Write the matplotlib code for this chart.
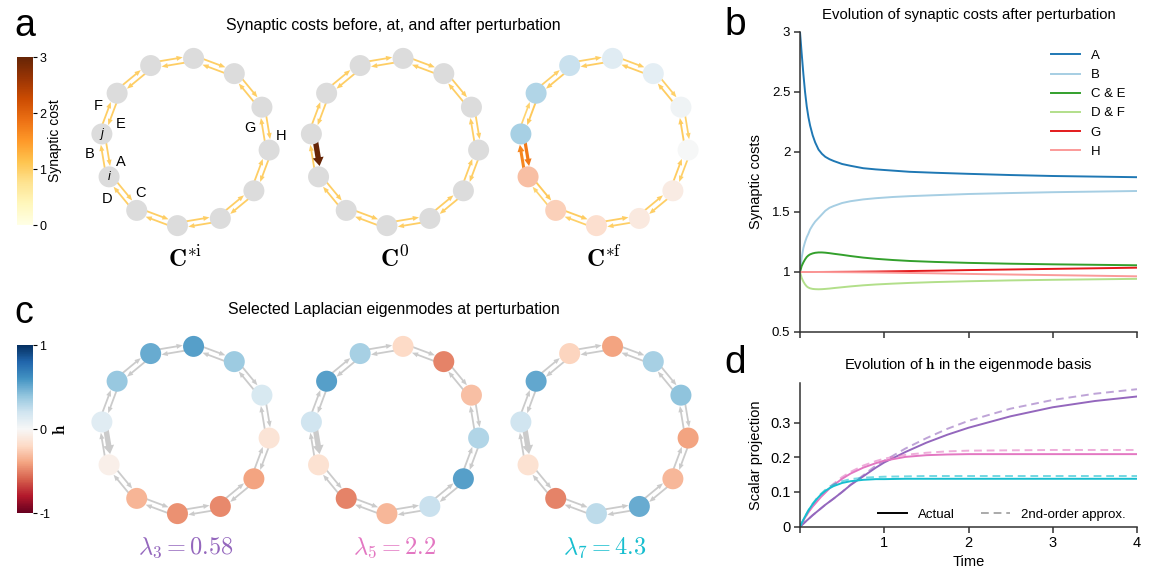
import numpy as np
import matplotlib
matplotlib.use("Agg")
import matplotlib.pyplot as plt
from matplotlib.patches import Circle, Polygon
from matplotlib.lines import Line2D
from matplotlib import cm, colors

plt.rcParams["font.family"] = ["Liberation Sans", "DejaVu Sans"]
plt.rcParams["mathtext.fontset"] = "cm"
plt.rcParams["font.size"] = 9
plt.rcParams["axes.unicode_minus"] = False

W, H = 1153, 573

# ---------------- panel b: synaptic costs over time
t_b = [0, 0.02, 0.04, 0.06, 0.08, 0.1, 0.12, 0.15, 0.18, 0.22, 0.26, 0.3, 0.35,
       0.4, 0.5, 0.6, 0.75, 0.9, 1.1, 1.3, 1.6, 2.0, 2.5, 3.0, 3.5, 4.0]
cost_A = [3.0, 2.82, 2.65, 2.50, 2.38, 2.29, 2.22, 2.14, 2.08, 2.02, 1.985, 1.96, 1.94,
          1.925, 1.90, 1.885, 1.865, 1.855, 1.845, 1.835, 1.827, 1.818, 1.808, 1.80, 1.795, 1.79]
cost_B = [1.0, 1.12, 1.20, 1.25, 1.29, 1.32, 1.355, 1.39, 1.42, 1.45, 1.48, 1.51, 1.535,
          1.55, 1.575, 1.59, 1.605, 1.615, 1.625, 1.632, 1.64, 1.65, 1.658, 1.665, 1.67, 1.675]
cost_CE = [1.0, 1.05, 1.08, 1.105, 1.125, 1.138, 1.147, 1.155, 1.16, 1.163, 1.163, 1.161, 1.157,
           1.152, 1.143, 1.133, 1.12, 1.11, 1.10, 1.092, 1.084, 1.076, 1.069, 1.064, 1.06, 1.056]
cost_DF = [1.0, 0.95, 0.92, 0.897, 0.88, 0.87, 0.864, 0.859, 0.857, 0.856, 0.857, 0.859, 0.862,
           0.866, 0.873, 0.88, 0.889, 0.896, 0.903, 0.909, 0.916, 0.923, 0.93, 0.935, 0.939, 0.943]
cost_G = [1.0, 1.0, 1.0, 1.0, 1.0, 1.0, 1.0, 1.0, 1.0001, 1.0002, 1.0003, 1.0005, 1.0007,
          1.001, 1.0015, 1.002, 1.003, 1.004, 1.006, 1.008, 1.011, 1.016, 1.021, 1.026, 1.031, 1.036]
cost_H = [1.0, 1.0, 1.0, 1.0, 1.0, 1.0, 1.0, 1.0, 0.9999, 0.9998, 0.9997, 0.9995, 0.9993,
          0.999, 0.9985, 0.998, 0.997, 0.996, 0.994, 0.992, 0.989, 0.984, 0.979, 0.974, 0.969, 0.964]

# ---------------- panel d: projections on eigenmodes
t_d = [0, 0.05, 0.1, 0.15, 0.2, 0.25, 0.3, 0.35, 0.4, 0.5, 0.6, 0.75, 0.9, 1.0,
       1.25, 1.5, 1.75, 2.0, 2.5, 3.0, 3.5, 4.0]
proj3 = [0, 0.011, 0.022, 0.033, 0.043, 0.053, 0.063, 0.072, 0.081, 0.10, 0.12, 0.145, 0.170, 0.185,
         0.215, 0.242, 0.265, 0.285, 0.318, 0.344, 0.362, 0.375]
proj3_approx = [0, 0.011, 0.022, 0.033, 0.043, 0.053, 0.063, 0.072, 0.081, 0.10, 0.121, 0.148, 0.176, 0.19,
                0.225, 0.255, 0.282, 0.305, 0.34, 0.365, 0.383, 0.396]
proj5 = [0, 0.022, 0.042, 0.058, 0.072, 0.086, 0.098, 0.11, 0.12, 0.138, 0.153, 0.17, 0.183, 0.19,
         0.201, 0.206, 0.208, 0.209, 0.209, 0.209, 0.209, 0.209]
proj5_approx = [0, 0.022, 0.042, 0.059, 0.074, 0.088, 0.10, 0.113, 0.124, 0.143, 0.158, 0.176, 0.189, 0.196,
                0.207, 0.213, 0.217, 0.219, 0.22, 0.221, 0.221, 0.221]
proj7 = [0, 0.025, 0.047, 0.065, 0.08, 0.093, 0.103, 0.111, 0.117, 0.126, 0.131, 0.135, 0.137, 0.137,
         0.138, 0.138, 0.138, 0.138, 0.138, 0.138, 0.138, 0.138]
proj7_approx = [0, 0.025, 0.047, 0.066, 0.082, 0.095, 0.106, 0.115, 0.122, 0.131, 0.137, 0.141, 0.143, 0.144,
                0.145, 0.146, 0.146, 0.146, 0.146, 0.146, 0.146, 0.146]

# ---------------- ring networks (12 nodes, node k counter-clockwise from the top)
h_final = [0.12, 0.22, 0.30, 0.33, -0.30, -0.24, -0.17, -0.10, -0.08, 0.0, 0.04, 0.10]
mode3 = [0.55, 0.50, 0.38, 0.12, -0.06, -0.34, -0.46, -0.48, -0.40, -0.14, 0.16, 0.36]
mode5 = [-0.20, 0.33, 0.55, 0.20, -0.15, -0.50, -0.33, 0.22, 0.55, 0.30, -0.30, -0.50]
mode7 = [-0.40, -0.22, 0.52, 0.20, -0.15, -0.50, 0.26, 0.50, -0.33, -0.40, 0.40, 0.33]
eig_labels = [r"$\lambda_3 = 0.58$", r"$\lambda_5 = 2.2$", r"$\lambda_7 = 4.3$"]
eig_colors = ["#9467bd", "#e377c2", "#17becf"]

# edge costs per neighbour pair k -- (k, k+1): inner edge k->k+1, outer edge k+1->k
inner_i = [1.0] * 12
outer_i = [1.0] * 12
inner_0 = [1.0, 1.0, 1.0, 3.0, 1.0, 1.0, 1.0, 1.0, 1.0, 1.0, 1.0, 1.0]
outer_0 = [1.0] * 12
inner_f = [1.01, 1.02, 1.056, 1.79, 1.056, 1.02, 1.01, 1.0, 1.02, 1.036, 1.02, 1.01]
outer_f = [0.99, 0.98, 0.943, 1.675, 0.943, 0.98, 0.99, 1.0, 0.98, 0.964, 0.98, 0.99]
ring_names = [r"$\mathbf{C}^{*\mathrm{i}}$", r"$\mathbf{C}^{0}$", r"$\mathbf{C}^{*\mathrm{f}}$"]

R_RING = 84.0
R_NODE = 10.5
GAP = 2.8
GRAY_NODE = "#dcdcdc"
GRAY_EDGE = "#cbcbcb"
norm_cost = colors.Normalize(0, 3)
norm_h = colors.Normalize(-1, 1)
cmap_cost = plt.get_cmap("YlOrBr")
cmap_h = plt.get_cmap("RdBu")


def ring_xy(cx, cy):
    ang = np.deg2rad(84.5 + 30 * np.arange(12))
    return cx + R_RING * np.cos(ang), cy - R_RING * np.sin(ang)


def draw_edge(ax, a, b, off, cost, col):
    u = (b - a) / np.linalg.norm(b - a)
    perp = np.array([-u[1], u[0]])
    tip = b + off - u * R_NODE
    hl = 5.0 + 1.2 * cost
    hw = 2.0 + 3.0 * cost
    base = tip - u * hl
    z = 2 + 0.1 * cost
    ax.plot([a[0] + off[0], base[0] + u[0]], [a[1] + off[1], base[1] + u[1]],
            color=col, lw=1.3 * cost, solid_capstyle="butt", zorder=z)
    ax.add_patch(Polygon([tip, base + perp * hw / 2, base - perp * hw / 2],
                         closed=True, fc=col, ec="none", zorder=z))


def draw_ring(ax, cx, cy, node_cols, inner, outer, edge_col=None):
    xs, ys = ring_xy(cx, cy)
    c = np.array([cx, cy])
    for k in range(12):
        k2 = (k + 1) % 12
        p = np.array([xs[k], ys[k]])
        q = np.array([xs[k2], ys[k2]])
        mid = (p + q) / 2
        inw = (c - mid) / np.linalg.norm(c - mid)
        for cost, sgn, a, b in [(inner[k], 1, p, q), (outer[k], -1, q, p)]:
            col = edge_col if edge_col else cmap_cost(norm_cost(cost))
            draw_edge(ax, a, b, sgn * GAP * inw, cost, col)
    for k in range(12):
        ax.add_patch(Circle((xs[k], ys[k]), R_NODE, fc=node_cols[k], ec="none", zorder=4))


fig = plt.figure(figsize=(W / 100, H / 100), dpi=100)
ax_net = fig.add_axes([0, 0, 720 / W, 1])
ax_net.set_xlim(0, 720)
ax_net.set_ylim(H, 0)
ax_net.axis("off")

ring_cx = [185.5, 395.0, 604.5]
cy_a, cy_c = 142.0, 430.0

# panel a
draw_ring(ax_net, ring_cx[0], cy_a, [GRAY_NODE] * 12, inner_i, outer_i)
draw_ring(ax_net, ring_cx[1], cy_a, [GRAY_NODE] * 12, inner_0, outer_0)
draw_ring(ax_net, ring_cx[2], cy_a, [cmap_h(norm_h(v)) for v in h_final], inner_f, outer_f)
for cx, name in zip(ring_cx, ring_names):
    ax_net.text(cx, 267, name, fontsize=18, ha="center", va="baseline")

# edge / node labels on the first ring
lab_off = {"F": (-87, -36), "E": (-65, -18), "B": (-95.5, 12), "A": (-64.5, 20),
           "D": (-78, 57), "C": (-44.5, 51), "G": (64.5, -14), "H": (95.5, -6)}
for s, (dx, dy) in lab_off.items():
    ax_net.text(ring_cx[0] + dx, cy_a + dy, s, fontsize=10.5, ha="center", va="center", zorder=6)
xs0, ys0 = ring_xy(ring_cx[0], cy_a)
ax_net.text(xs0[3], ys0[3], "j", style="italic", fontsize=9, ha="center", va="center", zorder=6)
ax_net.text(xs0[4], ys0[4], "i", style="italic", fontsize=9, ha="center", va="center", zorder=6)

# panel c
for cx, mode, lab, col in zip(ring_cx, [mode3, mode5, mode7], eig_labels, eig_colors):
    draw_ring(ax_net, cx, cy_c, [cmap_h(norm_h(v)) for v in mode], inner_0, outer_0, GRAY_EDGE)
    ax_net.text(cx, 554, lab, fontsize=17.5, color=col, ha="center", va="baseline")

ax_net.text(393.5, 30, "Synaptic costs before, at, and after perturbation", fontsize=11.4,
            ha="center", va="baseline")
ax_net.text(393.5, 314, "Selected Laplacian eigenmodes at perturbation", fontsize=11.4,
            ha="center", va="baseline")
ax_net.text(14, 36, "a", fontsize=27, va="baseline")
ax_net.text(14, 323, "c", fontsize=27, va="baseline")

# colorbars
cax_a = fig.add_axes([17 / W, 1 - 225 / H, 16 / W, 168 / H])
cb_a = fig.colorbar(cm.ScalarMappable(norm=norm_cost, cmap=cmap_cost), cax=cax_a, ticks=[0, 1, 2, 3])
cb_a.outline.set_visible(False)
cb_a.set_label("Synaptic cost", fontsize=10, labelpad=1)
cax_a.tick_params(length=3, width=0.8, pad=1.5, labelsize=9)

cax_c = fig.add_axes([17 / W, 1 - 513 / H, 16 / W, 168 / H])
cb_c = fig.colorbar(cm.ScalarMappable(norm=norm_h, cmap=cmap_h), cax=cax_c, ticks=[-1, 0, 1])
cb_c.outline.set_visible(False)
cb_c.set_label(r"$\mathbf{h}$", fontsize=12, labelpad=1)
cax_c.tick_params(length=3, width=0.8, pad=1.5, labelsize=9)

# panel b
pal = plt.get_cmap("Paired").colors
ax_b = fig.add_axes([800 / W, 1 - 332 / H, 337 / W, 300 / H])
ax_b.plot(t_b, cost_A, color=pal[1], lw=1.4, label="A")
ax_b.plot(t_b, cost_B, color=pal[0], lw=1.4, label="B")
ax_b.plot(t_b, cost_CE, color=pal[3], lw=1.4, label="C & E")
ax_b.plot(t_b, cost_DF, color=pal[2], lw=1.4, label="D & F")
ax_b.plot(t_b, cost_G, color=pal[5], lw=1.4, label="G")
ax_b.plot(t_b, cost_H, color=pal[4], lw=1.4, label="H")
ax_b.set_xlim(0, 4)
ax_b.set_ylim(0.5, 3)
ax_b.set_xticks([0, 1, 2, 3, 4])
ax_b.set_xticklabels([])
ax_b.set_yticks([0.5, 1, 1.5, 2, 2.5, 3])
ax_b.set_yticklabels(["0.5", "1", "1.5", "2", "2.5", "3"])
ax_b.set_ylabel("Synaptic costs", fontsize=10.5, labelpad=6)
ax_b.set_title("Evolution of synaptic costs after perturbation", fontsize=10.7, pad=9)
ax_b.legend(loc="upper right", bbox_to_anchor=(1.0, 0.98), frameon=False, fontsize=9.5,
            handlelength=2.2, labelspacing=0.52)
ax_b.tick_params(labelsize=9.5)

# panel d
ax_d = fig.add_axes([800 / W, 1 - 526.7 / H, 337 / W, 143.4 / H])
for y, ya, col in [(proj3, proj3_approx, eig_colors[0]), (proj5, proj5_approx, eig_colors[1]),
                   (proj7, proj7_approx, eig_colors[2])]:
    ax_d.plot(t_d, ya, color=col, lw=1.4, alpha=0.6, dashes=(4, 2.5))
    ax_d.plot(t_d, y, color=col, lw=1.4)
ax_d.set_xlim(0, 4)
ax_d.set_ylim(0, 0.413)
ax_d.set_xticks([0, 1, 2, 3, 4])
ax_d.set_xticklabels(["", "1", "2", "3", "4"])
ax_d.set_yticks([0, 0.1, 0.2, 0.3])
ax_d.set_yticklabels(["0", "0.1", "0.2", "0.3"])
ax_d.set_xlabel("Time", fontsize=10.5, labelpad=3)
ax_d.set_ylabel("Scalar projection", fontsize=10.5, labelpad=5)
ax_d.set_title(r"Evolution of $\mathbf{h}$ in the eigenmode basis", fontsize=10.7, pad=10)
hands = [Line2D([], [], color="black", lw=1.4),
         Line2D([], [], color="#aaaaaa", lw=1.4, dashes=(4, 2.5))]
ax_d.legend(hands, ["Actual", "2nd-order approx."], loc="lower right", ncol=2, frameon=False,
            fontsize=9.5, handlelength=2.2, columnspacing=2.0, bbox_to_anchor=(1.0, -0.04))

for ax in (ax_b, ax_d):
    for s in ("top", "right"):
        ax.spines[s].set_visible(False)
    for s in ("left", "bottom"):
        ax.spines[s].set_linewidth(1.1)
        ax.spines[s].set_color("#333333")
    ax.tick_params(length=4, width=1.1, color="#333333", pad=3)
ax_d.tick_params(labelsize=10.5)

fig.text(724 / W, 1 - 35 / H, "b", fontsize=28, va="baseline")
fig.text(724 / W, 1 - 373 / H, "d", fontsize=28, va="baseline")

fig.savefig("out.png", dpi=100, facecolor="white")
